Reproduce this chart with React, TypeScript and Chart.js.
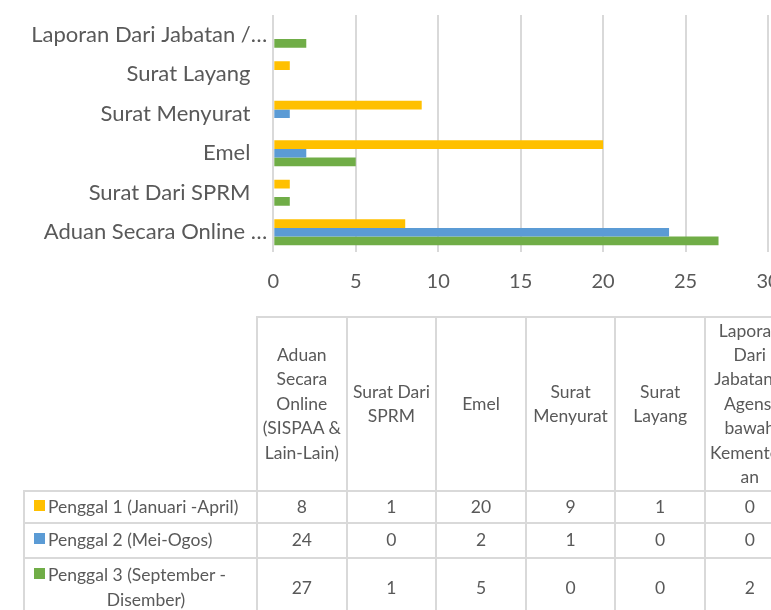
import React, { useEffect, useRef } from "react";
import { Chart, registerables } from "chart.js";

Chart.register(...registerables);

// ---------- data ----------
const categories = [
  "Aduan Secara Online (SISPAA & Lain-Lain)",
  "Surat Dari SPRM",
  "Emel",
  "Surat Menyurat",
  "Surat Layang",
  "Laporan Dari Jabatan / Agensi bawah Kementerian",
];
const axisLabels = [
  "Aduan Secara Online …",
  "Surat Dari SPRM",
  "Emel",
  "Surat Menyurat",
  "Surat Layang",
  "Laporan Dari Jabatan /…",
];
const seriesNames = [
  "Penggal 1 (Januari -April)",
  "Penggal 2 (Mei-Ogos)",
  "Penggal 3 (September - Disember)",
];
const penggal1 = [8, 1, 20, 9, 1, 0];
const penggal2 = [24, 0, 2, 1, 0, 0];
const penggal3 = [27, 1, 5, 0, 0, 2];
const xTickValues = [0, 5, 10, 15, 20, 25, 30];
const seriesColors = ["#FFC000", "#5B9BD5", "#70AD47"];

const seriesValues = [penggal1, penggal2, penggal3];

// ---------- layout ----------
const TEXT = "#595959";
const GRID = "#D9D9D9";
const FONT = "Lato, 'Open Sans', sans-serif";
const colX0 = 257;
const colW = 89.6;
const headerTop = 317;
const headerBottom = 491;
const rowTops = [491, 523.4, 557.7];
const rowBottoms = [523.4, 557.7, 618];
const legendLeft = 24;
const lineH = 24.4;
const tableFont = 17.5;

export default function App() {
  const ref = useRef<HTMLCanvasElement>(null);

  useEffect(() => {
    let chart: Chart | null = null;
    let cancelled = false;
    const make = () => {
      if (cancelled || !ref.current) return;
      chart = new Chart(ref.current, {
        type: "bar",
        data: {
          labels: axisLabels,
          datasets: seriesNames.map((name, i) => ({
            label: name,
            data: seriesValues[i],
            backgroundColor: seriesColors[i],
            borderWidth: 0,
            categoryPercentage: 0.66,
            barPercentage: 1,
          })),
        },
        options: {
          indexAxis: "y",
          animation: false,
          responsive: false,
          devicePixelRatio: 1,
          layout: { padding: { top: 15, right: 32, bottom: 5, left: 0 } },
          plugins: { legend: { display: false }, tooltip: { enabled: false } },
          scales: {
            x: {
              min: 0,
              max: 30,
              afterBuildTicks: (scale: any) => {
                scale.ticks = xTickValues.map((v) => ({ value: v }));
              },
              ticks: {
                color: TEXT,
                font: { family: FONT, size: 20 },
                padding: 18,
              },
              grid: { color: GRID, lineWidth: 2, drawTicks: false },
              border: { display: false },
            },
            y: {
              reverse: true,
              afterFit: (scale: any) => {
                scale.width = 273.3;
                scale.paddingTop = 0;
                scale.paddingBottom = 0;
              },
              ticks: {
                color: TEXT,
                font: { family: FONT, size: 22 },
                padding: 6,
                callback: (_v: any, i: number) => {
                  const l = axisLabels[i];
                  return l.endsWith("…") ? l : l + "   ";
                },
              },
              grid: { display: false, drawTicks: false },
              border: { display: false },
            },
          },
        },
      });
    };
    const fonts = (document as any).fonts;
    if (fonts && fonts.load) {
      Promise.all([fonts.load("22px Lato"), fonts.load("18px Lato")]).then(make, make);
    } else {
      make();
    }
    return () => {
      cancelled = true;
      if (chart) chart.destroy();
    };
  }, []);

  const cellBase: React.CSSProperties = {
    position: "absolute",
    border: `2px solid ${GRID}`,
    boxSizing: "border-box",
    display: "flex",
    alignItems: "center",
    justifyContent: "center",
    textAlign: "center",
    color: TEXT,
    fontFamily: FONT,
    fontSize: tableFont,
    lineHeight: `${lineH}px`,
  };

  const cells: React.ReactNode[] = [];
  categories.forEach((c, i) => {
    cells.push(
      <div
        key={"h" + i}
        style={{
          ...cellBase,
          left: colX0 + i * colW - 1,
          top: headerTop - 1,
          width: colW + 2,
          height: headerBottom - headerTop + 2,
          padding: "0 1px",
          overflowWrap: "anywhere",
        }}
      >
        {c}
      </div>
    );
  });
  seriesNames.forEach((name, r) => {
    cells.push(
      <div
        key={"l" + r}
        style={{
          ...cellBase,
          left: legendLeft - 1,
          top: rowTops[r] - 1,
          width: colX0 - legendLeft + 2,
          height: rowBottoms[r] - rowTops[r] + 2,
          justifyContent: "flex-start",
          paddingLeft: 9,
        }}
      >
        <div style={{ display: "flex", alignItems: "flex-start" }}>
          <div
            style={{
              width: 11,
              height: 11,
              background: seriesColors[r],
              marginTop: 5,
              marginRight: 3,
              flex: "none",
            }}
          />
          <span
            style={{
              display: "inline-block",
              maxWidth: 196,
              textAlign: "left",
              textAlignLast: "center",
            }}
          >
            {name}
          </span>
        </div>
      </div>
    );
    seriesValues[r].forEach((v, i) => {
      cells.push(
        <div
          key={"v" + r + "_" + i}
          style={{
            ...cellBase,
            left: colX0 + i * colW - 1,
            top: rowTops[r] - 1,
            width: colW + 2,
            height: rowBottoms[r] - rowTops[r] + 2,
          }}
        >
          {v}
        </div>
      );
    });
  });

  return (
    <div
      style={{
        position: "absolute",
        left: 0,
        top: 0,
        width: 771,
        height: 610,
        overflow: "hidden",
        background: "#fff",
      }}
    >
      <canvas
        ref={ref}
        width={800}
        height={317}
        style={{ position: "absolute", left: 0, top: 0, width: 800, height: 317, display: "block" }}
      />
      {cells}
    </div>
  );
}
